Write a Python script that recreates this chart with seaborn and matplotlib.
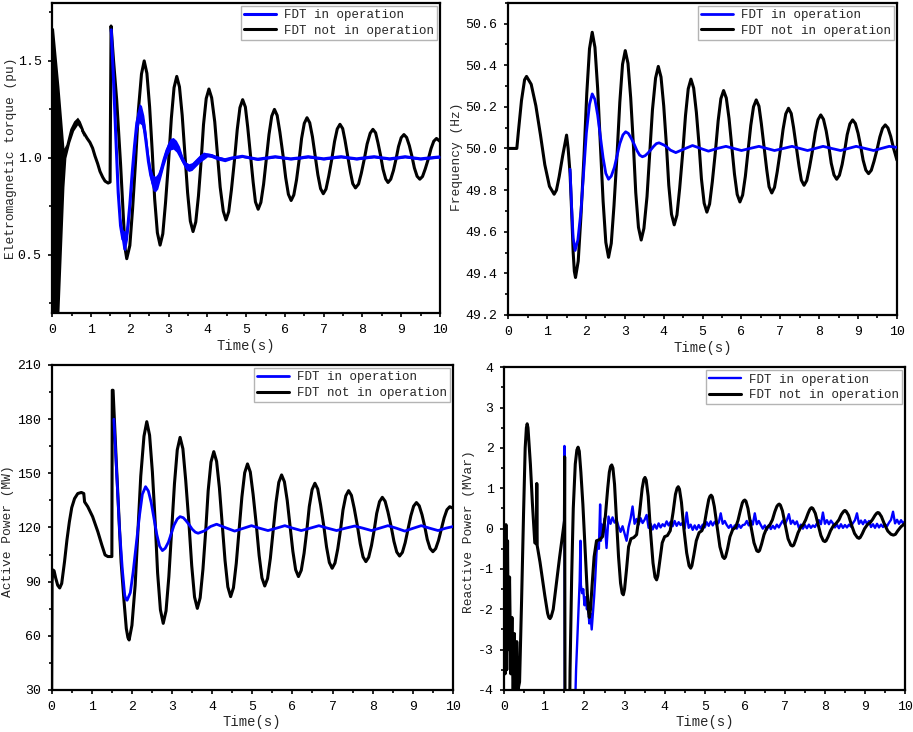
import matplotlib
matplotlib.use("Agg")
import matplotlib.pyplot as plt
from matplotlib.ticker import MultipleLocator, AutoMinorLocator, FormatStrFormatter
import numpy as np
import seaborn as sns

# ---------------- data ----------------
legend_labels = ["FDT in operation", "FDT not in operation"]
y_labels = ["Eletromagnetic torque (pu)", "Frequency (Hz)",
            "Active Power (MW)", "Reactive Power (MVar)"]
x_label = "Time(s)"

# torque, black trace: dense fast oscillation at the start (time, lower, upper)
torque_black_band = [(0.0, 0.2, 1.67), (0.03, 0.2, 1.67), (0.10, 0.2, 1.52), (0.17, 0.2, 1.37),
                     (0.24, 0.55, 1.20), (0.30, 0.85, 1.05), (0.35, 1.00, 1.07), (0.45, 1.08, 1.15),
                     (0.55, 1.14, 1.19), (0.65, 1.17, 1.21), (0.72, 1.15, 1.19), (0.80, 1.11, 1.15)]
torque_black = [(0.78, 1.14), (0.84, 1.12), (0.90, 1.10), (0.97, 1.08), (1.04, 1.05), (1.10, 1.01),
                (1.17, 0.97), (1.23, 0.93), (1.30, 0.90), (1.36, 0.88), (1.44, 0.87), (1.49, 0.875),
                (1.515, 1.68), (1.58, 1.50), (1.66, 1.30), (1.76, 0.97), (1.85, 0.63), (1.88, 0.53),
                (1.92, 0.48),
                (2.00, 0.548), (2.07, 0.735), (2.15, 0.99), (2.22, 1.245), (2.30, 1.432), (2.37, 1.50),
                (2.44, 1.436), (2.51, 1.263), (2.58, 1.025), (2.64, 0.788), (2.71, 0.614), (2.78, 0.55),
                (2.85, 0.608), (2.92, 0.768), (3.00, 0.985), (3.07, 1.203), (3.14, 1.362), (3.21, 1.42),
                (3.28, 1.366), (3.35, 1.22), (3.42, 1.02), (3.49, 0.82), (3.56, 0.674), (3.63, 0.62),
                (3.70, 0.669), (3.77, 0.804), (3.84, 0.988), (3.90, 1.171), (3.97, 1.306), (4.04, 1.355),
                (4.11, 1.31), (4.19, 1.186), (4.26, 1.018), (4.33, 0.849), (4.41, 0.725), (4.48, 0.68),
                (4.55, 0.722), (4.62, 0.835), (4.70, 0.99), (4.77, 1.145), (4.84, 1.259), (4.91, 1.30),
                (4.98, 1.262), (5.04, 1.159), (5.11, 1.018), (5.18, 0.876), (5.24, 0.773), (5.31, 0.735),
                (5.38, 0.77), (5.45, 0.864), (5.52, 0.993), (5.59, 1.121), (5.66, 1.215), (5.73, 1.25),
                (5.80, 1.219), (5.87, 1.133), (5.95, 1.015), (6.02, 0.898), (6.09, 0.812), (6.16, 0.78),
                (6.23, 0.809), (6.30, 0.887), (6.37, 0.994), (6.43, 1.10), (6.50, 1.178), (6.57, 1.207),
                (6.64, 1.181), (6.71, 1.109), (6.78, 1.011), (6.85, 0.913), (6.92, 0.841), (6.99, 0.815),
                (7.06, 0.839), (7.13, 0.905), (7.21, 0.994), (7.28, 1.084), (7.35, 1.149), (7.42, 1.173),
                (7.49, 1.151), (7.55, 1.091), (7.62, 1.009), (7.69, 0.927), (7.75, 0.867), (7.82, 0.845),
                (7.90, 0.865), (7.97, 0.92), (8.05, 0.996), (8.12, 1.071), (8.20, 1.127), (8.27, 1.147),
                (8.34, 1.129), (8.40, 1.078), (8.47, 1.01), (8.53, 0.942), (8.60, 0.891), (8.66, 0.873),
                (8.73, 0.89), (8.80, 0.935), (8.87, 0.997), (8.93, 1.058), (9.00, 1.104), (9.07, 1.12),
                (9.14, 1.105), (9.21, 1.063), (9.28, 1.005), (9.34, 0.948), (9.41, 0.905), (9.48, 0.89),
                (9.55, 0.904), (9.62, 0.943), (9.70, 0.995), (9.77, 1.048), (9.84, 1.086), (9.91, 1.10),
                (10.0, 1.085)]
# torque, blue trace: (time, centre, half-spread of the fast ripple)
torque_blue = [(1.52, 1.66, 0.0), (1.58, 1.40, 0.01), (1.64, 1.10, 0.03), (1.70, 0.82, 0.03),
               (1.76, 0.65, 0.04), (1.82, 0.58, 0.05), (1.88, 0.57, 0.05), (1.94, 0.63, 0.05),
               (2.00, 0.76, 0.05), (2.06, 0.92, 0.05), (2.12, 1.06, 0.05), (2.18, 1.18, 0.05),
               (2.24, 1.23, 0.05), (2.30, 1.22, 0.05), (2.36, 1.17, 0.05), (2.42, 1.08, 0.05),
               (2.48, 0.98, 0.04), (2.54, 0.91, 0.04), (2.60, 0.87, 0.04), (2.66, 0.865, 0.04),
               (2.72, 0.88, 0.04), (2.80, 0.93, 0.03), (2.88, 0.99, 0.03), (2.96, 1.04, 0.03),
               (3.04, 1.07, 0.03), (3.12, 1.075, 0.03), (3.20, 1.06, 0.03), (3.28, 1.03, 0.03),
               (3.36, 0.99, 0.02), (3.44, 0.96, 0.02), (3.52, 0.95, 0.02), (3.60, 0.955, 0.02),
               (3.70, 0.975, 0.02), (3.80, 0.995, 0.02), (3.90, 1.01, 0.02), (4.00, 1.015, 0.01),
               (4.10, 1.012, 0.01), (4.25, 1.0, 0.01), (4.45, 0.99, 0.01), (4.65, 1.0, 0.006),
               (4.90, 1.008, 0.006), (5.10, 1.0, 0.006), (5.30, 0.993, 0.006), (5.55, 1.0, 0.006),
               (5.75, 1.006, 0.006), (5.95, 1.0, 0.006), (6.15, 0.995, 0.006), (6.40, 1.0, 0.006),
               (6.60, 1.006, 0.006), (6.80, 1.0, 0.006), (7.00, 0.995, 0.006), (7.20, 1.0, 0.006),
               (7.45, 1.006, 0.006), (7.65, 1.0, 0.006), (7.85, 0.995, 0.006), (8.05, 1.0, 0.006),
               (8.30, 1.006, 0.006), (8.50, 1.0, 0.006), (8.70, 0.995, 0.006), (8.90, 1.0, 0.006),
               (9.10, 1.006, 0.006), (9.30, 1.0, 0.006), (9.50, 0.995, 0.006), (9.75, 1.0, 0.006),
               (10.0, 1.005, 0.006)]

# frequency (Hz)
freq_black = [(0.0, 50.0), (0.22, 50.0), (0.26, 50.08), (0.34, 50.23), (0.42, 50.33), (0.47, 50.346),
              (0.59, 50.308), (0.71, 50.205), (0.83, 50.063), (0.94, 49.922), (1.06, 49.818), (1.18, 49.78),
              (1.24, 49.80), (1.31, 49.865), (1.40, 49.965), (1.50, 50.064), (1.54, 50.0), (1.59, 49.88),
              (1.63, 49.70), (1.67, 49.50), (1.70, 49.41), (1.73, 49.38),
              (1.80, 49.459), (1.87, 49.675), (1.95, 49.969), (2.02, 50.264), (2.09, 50.479), (2.16, 50.558),
              (2.23, 50.486), (2.30, 50.288), (2.37, 50.018), (2.44, 49.747), (2.51, 49.549), (2.58, 49.477),
              (2.65, 49.544), (2.72, 49.725), (2.80, 49.974), (2.87, 50.222), (2.94, 50.404), (3.01, 50.47),
              (3.08, 50.409), (3.15, 50.243), (3.22, 50.015), (3.28, 49.788), (3.35, 49.621), (3.42, 49.56),
              (3.49, 49.616), (3.57, 49.769), (3.64, 49.977), (3.71, 50.186), (3.79, 50.338), (3.86, 50.394),
              (3.93, 50.343), (4.00, 50.204), (4.07, 50.014), (4.13, 49.823), (4.20, 49.684), (4.27, 49.633),
              (4.34, 49.68), (4.41, 49.808), (4.49, 49.983), (4.56, 50.158), (4.63, 50.286), (4.70, 50.333),
              (4.77, 50.29), (4.84, 50.173), (4.91, 50.014), (4.97, 49.854), (5.04, 49.737), (5.11, 49.694),
              (5.18, 49.733), (5.25, 49.84), (5.33, 49.986), (5.40, 50.132), (5.47, 50.239), (5.54, 50.278),
              (5.61, 50.242), (5.68, 50.144), (5.75, 50.011), (5.82, 49.877), (5.89, 49.779), (5.96, 49.743),
              (6.03, 49.776), (6.10, 49.866), (6.17, 49.988), (6.24, 50.111), (6.31, 50.2), (6.38, 50.233),
              (6.45, 50.203), (6.51, 50.121), (6.58, 50.01), (6.65, 49.898), (6.71, 49.816), (6.78, 49.786),
              (6.85, 49.813), (6.92, 49.888), (7.00, 49.99), (7.07, 50.091), (7.14, 50.166), (7.21, 50.193),
              (7.28, 50.168), (7.34, 50.101), (7.41, 50.008), (7.48, 49.916), (7.54, 49.848), (7.61, 49.823),
              (7.68, 49.846), (7.75, 49.908), (7.83, 49.992), (7.90, 50.077), (7.97, 50.138), (8.04, 50.161),
              (8.11, 50.14), (8.18, 50.084), (8.25, 50.007), (8.31, 49.929), (8.38, 49.873), (8.45, 49.852),
              (8.52, 49.871), (8.59, 49.923), (8.66, 49.995), (8.72, 50.066), (8.79, 50.118), (8.86, 50.137),
              (8.93, 50.12), (9.00, 50.073), (9.07, 50.008), (9.13, 49.944), (9.20, 49.896), (9.27, 49.879),
              (9.34, 49.895), (9.41, 49.938), (9.49, 49.996), (9.56, 50.055), (9.63, 50.097), (9.70, 50.113),
              (9.77, 50.098), (9.84, 50.058), (9.91, 50.003), (10.0, 49.944)]
freq_blue = [(1.59, 49.90), (1.63, 49.72), (1.67, 49.57), (1.72, 49.51),
             (1.79, 49.56), (1.87, 49.698), (1.94, 49.886), (2.01, 50.074), (2.09, 50.212), (2.16, 50.262),
             (2.23, 50.235), (2.30, 50.16), (2.37, 50.057), (2.44, 49.955), (2.51, 49.88), (2.58, 49.852),
             (2.65, 49.867), (2.73, 49.909), (2.80, 49.966), (2.87, 50.023), (2.95, 50.065), (3.02, 50.08),
             (3.09, 50.072), (3.16, 50.05), (3.24, 50.02), (3.31, 49.99), (3.38, 49.968), (3.45, 49.96),
             (3.52, 49.965), (3.59, 49.977), (3.67, 49.994), (3.74, 50.01), (3.81, 50.023), (3.88, 50.027),
             (4.02, 50.015), (4.10, 50.004), (4.17, 49.992), (4.31, 49.98), (4.52, 49.997), (4.74, 50.014),
             (4.95, 50.0), (5.15, 49.987), (5.38, 50.0), (5.60, 50.01), (5.80, 50.0), (6.00, 49.99),
             (6.22, 50.0), (6.45, 50.01), (6.65, 50.0), (6.85, 49.99), (7.08, 50.0), (7.30, 50.01),
             (7.50, 50.0), (7.70, 49.99), (7.90, 50.0), (8.10, 50.01), (8.32, 50.0), (8.55, 49.99),
             (8.75, 50.0), (8.95, 50.01), (9.18, 50.0), (9.40, 49.99), (9.60, 50.0), (9.80, 50.01),
             (10.0, 50.005)]

# active power (MW)
power_black = [(0.0, 30.0), (0.01, 90.0), (0.03, 96.5), (0.06, 96.0), (0.10, 92.0), (0.15, 88.0),
               (0.20, 86.5), (0.25, 89.0), (0.32, 101.0), (0.38, 113.0), (0.44, 123.0), (0.50, 131.0),
               (0.57, 136.0), (0.65, 138.8), (0.74, 139.4), (0.80, 138.8), (0.82, 134.2), (0.90, 131.5),
               (1.02, 126.0), (1.15, 117.7), (1.25, 110.3), (1.33, 104.8), (1.40, 103.9), (1.50, 103.9),
               (1.51, 196.0), (1.53, 196.0), (1.61, 156.3), (1.73, 100.9), (1.80, 80.0), (1.86, 64.0),
               (1.90, 59.0), (1.93, 57.7),
               (2.00, 65.8), (2.08, 87.9), (2.15, 118.2), (2.22, 148.4), (2.30, 170.5), (2.37, 178.6),
               (2.44, 171.1), (2.51, 150.7), (2.58, 122.8), (2.64, 94.8), (2.71, 74.4), (2.78, 66.9),
               (2.85, 73.8), (2.92, 92.7), (2.99, 118.4), (3.06, 144.2), (3.13, 163.0), (3.20, 169.9),
               (3.27, 163.6), (3.34, 146.2), (3.42, 122.6), (3.49, 98.9), (3.56, 81.5), (3.63, 75.2),
               (3.70, 81.0), (3.77, 96.9), (3.84, 118.6), (3.90, 140.3), (3.97, 156.2), (4.04, 162.0),
               (4.11, 156.6), (4.18, 141.9), (4.25, 121.9), (4.32, 101.8), (4.39, 87.1), (4.46, 81.7),
               (4.53, 86.6), (4.60, 100.1), (4.67, 118.5), (4.74, 136.8), (4.81, 150.3), (4.88, 155.2),
               (4.95, 150.7), (5.02, 138.3), (5.10, 121.4), (5.17, 104.5), (5.24, 92.1), (5.31, 87.6),
               (5.38, 91.7), (5.45, 103.0), (5.52, 118.4), (5.59, 133.7), (5.66, 145.0), (5.73, 149.1),
               (5.80, 145.3), (5.87, 135.0), (5.94, 121.0), (6.01, 106.9), (6.08, 96.6), (6.15, 92.8),
               (6.22, 96.3), (6.29, 105.7), (6.36, 118.7), (6.42, 131.6), (6.49, 141.0), (6.56, 144.5),
               (6.63, 141.3), (6.70, 132.7), (6.78, 121.0), (6.85, 109.2), (6.92, 100.6), (6.99, 97.4),
               (7.06, 100.3), (7.13, 108.2), (7.20, 118.9), (7.26, 129.7), (7.33, 137.5), (7.40, 140.4),
               (7.47, 137.8), (7.54, 130.6), (7.62, 120.8), (7.69, 110.9), (7.76, 103.7), (7.83, 101.1),
               (7.90, 103.5), (7.97, 110.0), (8.04, 118.9), (8.10, 127.8), (8.17, 134.3), (8.24, 136.7),
               (8.31, 134.5), (8.38, 128.6), (8.46, 120.5), (8.53, 112.3), (8.60, 106.4), (8.67, 104.2),
               (8.74, 106.2), (8.81, 111.6), (8.88, 119.0), (8.95, 126.4), (9.02, 131.8), (9.09, 133.8),
               (9.16, 132.0), (9.23, 127.0), (9.30, 120.2), (9.36, 113.4), (9.43, 108.4), (9.50, 106.6),
               (9.57, 108.3), (9.64, 112.8), (9.71, 119.05), (9.78, 125.3), (9.85, 129.8), (9.92, 131.5),
               (10.0, 130.7)]
power_blue = [(1.55, 180.0), (1.62, 150.0), (1.69, 119.3), (1.76, 97.0), (1.82, 82.6), (1.85, 80.3),
              (1.88, 79.7),
              (1.96, 83.9), (2.03, 95.4), (2.11, 111.2), (2.19, 126.9), (2.26, 138.4), (2.34, 142.6),
              (2.41, 140.2), (2.48, 133.8), (2.55, 124.9), (2.62, 116.1), (2.69, 109.6), (2.76, 107.2),
              (2.83, 108.5), (2.91, 111.9), (2.98, 116.6), (3.05, 121.3), (3.13, 124.7), (3.20, 126.0),
              (3.28, 125.4), (3.35, 123.7), (3.43, 121.4), (3.50, 119.1), (3.58, 117.4), (3.65, 116.8),
              (3.80, 118.05), (3.96, 120.55), (4.11, 121.8), (4.33, 119.9), (4.56, 118.0), (4.77, 119.5),
              (4.98, 121.0), (5.18, 119.6), (5.39, 118.3), (5.60, 119.6), (5.81, 121.0), (6.01, 119.6),
              (6.22, 118.3), (6.44, 119.6), (6.66, 121.0), (6.88, 119.6), (7.10, 118.3), (7.32, 119.6),
              (7.55, 120.8), (7.76, 119.6), (7.97, 118.3), (8.17, 119.6), (8.38, 121.0), (8.59, 119.6),
              (8.80, 118.0), (9.00, 119.5), (9.21, 121.0), (9.42, 119.6), (9.63, 118.3), (9.82, 119.6),
              (10.0, 120.5)]

# reactive power (MVar); values below -4 leave the axes
reactive_black = [(0.00, 0.0), (0.02, -3.6), (0.04, 0.1), (0.06, -3.5), (0.08, -0.3), (0.10, -3.0),
                  (0.13, -1.2), (0.16, -3.6), (0.19, -2.2), (0.22, -4.3), (0.25, -2.6), (0.28, -4.3),
                  (0.31, -2.8), (0.34, -4.0), (0.38, -3.8), (0.43, -1.8), (0.48, 0.4), (0.52, 2.0),
                  (0.55, 2.5), (0.57, 2.6), (0.59, 2.5), (0.61, 2.2), (0.65, 1.6), (0.70, 0.63),
                  (0.76, -0.35), (0.80, -0.38), (0.81, 1.12), (0.82, -0.42), (0.89, -0.83), (1.01, -1.66),
                  (1.08, -2.1), (1.11, -2.2), (1.14, -2.23), (1.17, -2.18), (1.22, -2.0), (1.30, -1.35),
                  (1.38, -0.7), (1.46, -0.1), (1.50, 0.2), (1.505, 1.78), (1.515, -5.0), (1.625, -5.0),
                  (1.64, -3.5), (1.68, -1.2), (1.72, 0.5), (1.77, 1.6), (1.81, 1.95), (1.84, 2.02),
                  (1.87, 1.92), (1.91, 1.4), (1.96, 0.6), (2.02, -0.6), (2.07, -1.6), (2.10, -2.05),
                  (2.12, -2.2), (2.15, -2.0), (2.19, -1.4), (2.24, -0.7), (2.30, -0.3), (2.38, -0.27),
                  (2.45, -0.2), (2.52, 0.3), (2.58, 1.0), (2.62, 1.4), (2.65, 1.54), (2.68, 1.58),
                  (2.71, 1.5), (2.75, 1.1), (2.80, 0.2), (2.85, -0.7), (2.90, -1.35), (2.94, -1.6),
                  (2.97, -1.64), (3.00, -1.5), (3.05, -1.0), (3.10, -0.45), (3.16, -0.25), (3.23, -0.22),
                  (3.30, -0.15), (3.37, 0.35), (3.44, 1.0), (3.48, 1.22), (3.51, 1.27), (3.54, 1.2),
                  (3.59, 0.8), (3.65, -0.1), (3.71, -0.85), (3.76, -1.2), (3.80, -1.27),
                  (3.83, -1.17), (3.88, -0.8), (3.94, -0.35), (4.00, -0.2), (4.07, -0.17), (4.14, -0.05),
                  (4.21, 0.4), (4.27, 0.85), (4.31, 1.0), (4.34, 1.04), (4.37, 0.98), (4.42, 0.65),
                  (4.48, 0.0), (4.55, -0.6), (4.61, -0.92), (4.65, -0.98),
                  (4.68, -0.92), (4.73, -0.65), (4.79, -0.3), (4.86, -0.1), (4.93, -0.05), (4.99, 0.1),
                  (5.05, 0.45), (5.10, 0.72), (5.13, 0.8), (5.16, 0.83), (5.19, 0.79), (5.24, 0.55),
                  (5.31, 0.05), (5.38, -0.45), (5.45, -0.7), (5.49, -0.74),
                  (5.52, -0.7), (5.57, -0.5), (5.63, -0.2), (5.70, -0.02), (5.77, 0.03), (5.83, 0.2),
                  (5.89, 0.45), (5.94, 0.64), (5.97, 0.69), (6.00, 0.71), (6.03, 0.68), (6.08, 0.5),
                  (6.15, 0.08), (6.23, -0.35), (6.30, -0.55), (6.34, -0.57),
                  (6.37, -0.54), (6.42, -0.38), (6.48, -0.15), (6.55, 0.02), (6.62, 0.08), (6.69, 0.22),
                  (6.75, 0.42), (6.80, 0.55), (6.83, 0.59), (6.86, 0.61), (6.89, 0.58), (6.94, 0.44),
                  (7.01, 0.1), (7.08, -0.25), (7.15, -0.41), (7.19, -0.43),
                  (7.22, -0.41), (7.27, -0.28), (7.33, -0.1), (7.40, 0.04), (7.46, 0.1), (7.52, 0.22),
                  (7.58, 0.38), (7.62, 0.47), (7.65, 0.51), (7.67, 0.52), (7.70, 0.5), (7.76, 0.38),
                  (7.83, 0.1), (7.90, -0.17), (7.96, -0.3), (8.00, -0.32),
                  (8.03, -0.3), (8.08, -0.2), (8.14, -0.05), (8.21, 0.07), (8.28, 0.13), (8.35, 0.22),
                  (8.41, 0.35), (8.46, 0.42), (8.48, 0.44), (8.50, 0.45), (8.53, 0.43), (8.59, 0.33),
                  (8.66, 0.1), (8.74, -0.12), (8.81, -0.22), (8.85, -0.24),
                  (8.88, -0.22), (8.93, -0.13), (8.99, 0.0), (9.06, 0.1), (9.13, 0.15), (9.19, 0.23),
                  (9.25, 0.33), (9.29, 0.38), (9.32, 0.40), (9.35, 0.39), (9.41, 0.3), (9.49, 0.1),
                  (9.57, -0.06), (9.65, -0.14), (9.71, -0.16),
                  (9.76, -0.14), (9.82, -0.05), (9.90, 0.05), (10.0, 0.13)]
reactive_blue_start = [(1.49, -0.1), (1.50, 2.05), (1.51, -5.0), (1.75, -5.0), (1.79, -3.5), (1.83, -2.5),
                       (1.86, -1.7), (1.88, -1.3), (1.90, -0.3), (1.91, -1.4), (1.94, -1.6), (1.97, -1.5),
                       (2.00, -1.9), (2.03, -1.7), (2.06, -2.0), (2.09, -1.9), (2.12, -2.35), (2.15, -2.1),
                       (2.18, -2.5), (2.21, -2.1), (2.24, -1.7), (2.27, -1.2), (2.30, -0.6), (2.33, -0.3),
                       (2.36, -0.5), (2.39, 0.6), (2.41, -0.3), (2.43, 0.1), (2.46, -0.1)]
# blue reactive power from 2.50 s to 10.00 s, one value every 0.05 s
reactive_blue_tail = [
    0.25, -0.48, 0.30, 0.12, 0.28, 0.15, 0.22, 0.05, -0.08, 0.06,
    -0.12, -0.30, 0.04, 0.25, 0.55, 0.12, 0.24, 0.10, 0.26, 0.14,
    0.22, 0.34, 0.02, 0.12, -0.02, 0.10, 0.00, 0.13, 0.03, 0.11,
    0.06, 0.18, 0.08, 0.17, 0.06, 0.19, 0.07, 0.16, 0.09, 0.15,
    0.00, 0.40, 0.02, 0.10, -0.03, 0.08, -0.02, 0.09, 0.00, 0.10,
    0.03, 0.16, 0.07, 0.18, 0.08, 0.17, 0.10, 0.15, 0.38, 0.12,
    0.19, 0.09, 0.02, 0.09, -0.02, 0.08, 0.00, 0.10, 0.02, 0.09,
    0.10, 0.19, 0.08, 0.20, 0.10, 0.38, 0.11, 0.19, 0.09, 0.00,
    0.08, -0.03, 0.09, -0.01, 0.07, 0.00, 0.10, 0.03, 0.12, 0.20,
    0.10, 0.21, 0.36, 0.12, 0.20, 0.11, 0.18, 0.02, 0.10, 0.00,
    0.09, 0.01, 0.10, 0.02, 0.08, 0.04, 0.13, 0.21, 0.11, 0.40,
    0.12, 0.21, 0.11, 0.20, 0.13, 0.03, 0.10, 0.01, 0.11, 0.02,
    0.09, 0.03, 0.10, 0.05, 0.14, 0.21, 0.38, 0.12, 0.20, 0.11,
    0.21, 0.12, 0.19, 0.04, 0.11, 0.02, 0.12, 0.03, 0.10, 0.04,
    0.11, 0.06, 0.15, 0.22, 0.42, 0.13, 0.22, 0.12, 0.21, 0.13,
    0.19]
reactive_blue_tail_t = np.round(np.arange(2.5, 10.0 + 1e-9, 0.05), 2)

# ---------------- style ----------------
sns.set_style("ticks")
plt.rcParams["font.family"] = ["Liberation Mono", "DejaVu Sans"]
plt.rcParams["axes.unicode_minus"] = False
plt.rcParams["axes.linewidth"] = 1.6


def trace(ax, pts, color, lw, label, z):
    t, v = zip(*pts)
    sns.lineplot(x=list(t), y=list(v), ax=ax, color=color, linewidth=lw, label=label,
                 sort=False, estimator=None, zorder=z)


fig = plt.figure(figsize=(9.13, 7.32), dpi=100)
boxes = [[0.0573, 0.5724, 0.4246, 0.4239], [0.5567, 0.5697, 0.4257, 0.4266],
         [0.0566, 0.0574, 0.4395, 0.4440], [0.5524, 0.0574, 0.4389, 0.4408]]
axes = [fig.add_axes(b) for b in boxes]

# torque
ax = axes[0]
bt, blo, bhi = zip(*torque_black_band)
ax.fill_between(bt, blo, bhi, color="black", lw=0, zorder=2)
trace(ax, torque_black, "black", 2.2, legend_labels[1], 2)
tt, tc, ts = zip(*torque_blue)
ax.fill_between(tt, [c - s for c, s in zip(tc, ts)], [c + s for c, s in zip(tc, ts)],
                color="blue", lw=0, zorder=3)
trace(ax, [(t, c) for t, c, s in torque_blue], "blue", 2.2, legend_labels[0], 3)

# frequency
trace(axes[1], freq_black, "black", 2.2, legend_labels[1], 2)
trace(axes[1], freq_blue, "blue", 2.0, legend_labels[0], 3)

# active power
trace(axes[2], power_black, "black", 2.2, legend_labels[1], 2)
trace(axes[2], power_blue, "blue", 2.0, legend_labels[0], 3)

# reactive power (black drawn over blue here)
rb = reactive_blue_start + list(zip(reactive_blue_tail_t, reactive_blue_tail))
trace(axes[3], rb, "blue", 1.7, legend_labels[0], 2)
trace(axes[3], reactive_black, "black", 2.2, legend_labels[1], 3)

specs = [
    dict(ylim=(0.2, 1.8), step=0.5, fmt="%.1f", ylab=(-0.090, 0.50), xlab=-0.084),
    dict(ylim=(49.2, 50.7), step=0.2, fmt="%.1f", ylab=(-0.117, 0.506), xlab=-0.082),
    dict(ylim=(30, 210), step=30, fmt="%d", ylab=(-0.093, 0.49), xlab=-0.077),
    dict(ylim=(-4, 4), step=1, fmt="%d", ylab=(-0.072, 0.49), xlab=-0.0775),
]

for ax, sp, ylab in zip(axes, specs, y_labels):
    ax.set_xlim(0, 10)
    ax.set_ylim(*sp["ylim"])
    ax.xaxis.set_major_locator(MultipleLocator(1))
    ax.xaxis.set_minor_locator(AutoMinorLocator(2))
    ax.yaxis.set_major_locator(MultipleLocator(sp["step"]))
    ax.yaxis.set_minor_locator(AutoMinorLocator(2))
    ax.yaxis.set_major_formatter(FormatStrFormatter(sp["fmt"]))
    ax.tick_params(which="both", direction="out", top=False, right=False,
                   width=1.2, labelsize=9.5, colors="black")
    ax.tick_params(which="major", length=3.2, pad=4.5)
    ax.tick_params(which="minor", length=2.0)
    for s in ax.spines.values():
        s.set_linewidth(1.6)
        s.set_color("black")
    ax.set_xlabel(x_label, fontsize=10)
    ax.set_ylabel(ylab, fontsize=9.3)
    ax.xaxis.set_label_coords(0.5, sp["xlab"])
    ax.yaxis.set_label_coords(*sp["ylab"])
    handles, labels = ax.get_legend_handles_labels()
    order = [labels.index(l) for l in legend_labels]
    leg = ax.legend([handles[i] for i in order], legend_labels, loc="upper right",
                    fontsize=9, frameon=True, fancybox=False, framealpha=1,
                    edgecolor="#b4b4b4", borderaxespad=0.25, borderpad=0.25,
                    labelspacing=0.3, handlelength=2.6, handletextpad=0.6)
    leg.get_frame().set_linewidth(1.0)

fig.savefig("out.png", dpi=100)
